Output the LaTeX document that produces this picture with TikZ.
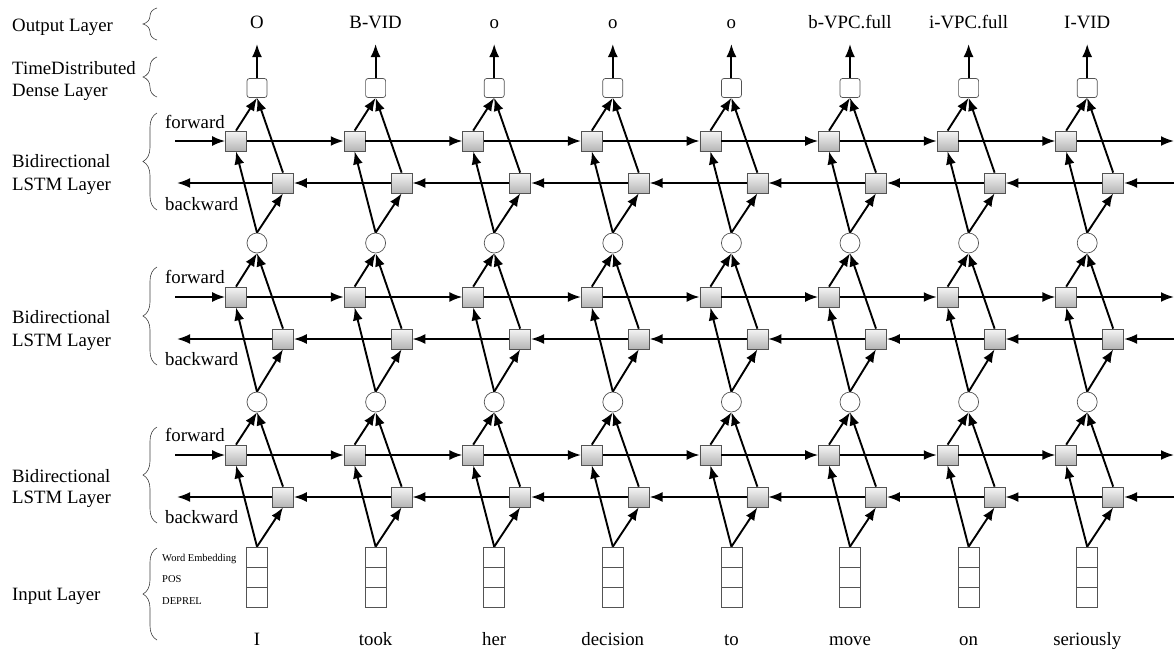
\documentclass[tikz,border=0pt]{standalone}
\usepackage{fontspec}
\setmainfont{Liberation Serif}
\usetikzlibrary{arrows.meta,decorations.pathreplacing}
\begin{document}
\begin{tikzpicture}[x=1pt,y=-1pt,
  lbl/.style={font=\fontsize{18.8}{21}\selectfont, inner sep=0pt, anchor=base},
  side/.style={lbl, anchor=base west},
  small/.style={font=\fontsize{10.5}{12}\selectfont, inner sep=0pt, anchor=base west},
  cell/.style={draw=gray!65!black, line width=0.7pt, top color=gray!8, bottom color=gray!58,
    minimum width=21pt, minimum height=20pt, inner sep=0pt},
  dense/.style={draw=gray!65!black, fill=white, rounded corners=2.5pt, minimum width=20pt,
    minimum height=19pt, inner sep=0pt, line width=0.7pt},
  merge/.style={circle, draw=gray!65!black, fill=white, minimum size=20pt, inner sep=0pt, line width=0.7pt},
  feat/.style={draw=gray!65!black, fill=white, minimum width=21pt, minimum height=20pt,
    inner sep=0pt, line width=0.7pt},
  link/.style={line width=1.9pt, -{Latex[length=13pt,width=10pt]}},
  layerbrace/.style={decorate, decoration={brace, amplitude=14pt}, draw=gray!50!black, line width=0.6pt}
]
\useasboundingbox (0,0) rectangle (1176,651);

% left-hand layer captions
\node[side] (capout) at (12,31) {Output Layer};
\node[side] (captd1) at (12,74) {TimeDistributed};
\node[side] (captd2) at (12,96) {Dense Layer};
\node[side] (capa1) at (12,167) {Bidirectional};
\node[side] (capa2) at (12,190) {LSTM Layer};
\node[side] (capb1) at (12,323) {Bidirectional};
\node[side] (capb2) at (12,346) {LSTM Layer};
\node[side] (capc1) at (12,482) {Bidirectional};
\node[side] (capc2) at (12,503) {LSTM Layer};
\node[side] (capin) at (12,600) {Input Layer};

% braces
\draw[layerbrace] (157,40) -- (157,8);
\draw[layerbrace] (157,97) -- (157,57);
\draw[layerbrace] (157,210) -- (157,113);
\draw[layerbrace] (157,365) -- (157,267);
\draw[layerbrace] (157,523) -- (157,427);
\draw[layerbrace] (157,640) -- (157,548);

% direction labels
\foreach \ly/\fb/\bb in {A/128/210, B/283/365, C/441/523}{
  \node[side] (fw\ly) at (165,\fb) {forward};
  \node[side] (bw\ly) at (165,\bb) {backward};
}

% feature names of the input vector
\node[small] (fwe) at (162,561) {Word Embedding};
\node[small] (fpos) at (162,582) {POS};
\node[small] (fdep) at (162,604) {DEPREL};

% columns: outputs, dense units, merge nodes, input vectors, words
\foreach \i/\tag/\word in {1/O/I, 2/B-VID/took, 3/o/her, 4/o/decision, 5/o/to,
    6/b-VPC.full/move, 7/i-VPC.full/on, 8/I-VID/seriously}{
  \pgfmathsetmacro\x{257+118.6*(\i-1)}
  \node[lbl] (o\i) at (\x,28) {\tag};
  \coordinate (t\i) at (\x,44);
  \node[dense] (d\i) at (\x,88) {};
  \node[merge] (m1\i) at (\x,243) {};
  \node[merge] (m2\i) at (\x,402) {};
  \node[feat] (e\i) at (\x,557) {};
  \node[feat] (p\i) at (\x,577) {};
  \node[feat] (r\i) at (\x,597) {};
  \node[lbl] (w\i) at (\x,645) {\word};
  \draw[link] (d\i.north) -- (t\i);
}

% three bidirectional LSTM layers
\foreach \ly/\fy/\by/\src/\dst in {A/141/183/m1/d, B/297/339/m2/m1, C/455/497/e/m2}{
  \foreach \i in {1,...,8}{
    \pgfmathsetmacro\x{257+118.6*(\i-1)}
    \node[cell] (f\ly\i) at (\x-21,\fy) {};
    \node[cell] (b\ly\i) at (\x+26,\by) {};
    \draw[link] (\src\i.north) -- (f\ly\i.south);
    \draw[link] (\src\i.north) -- (b\ly\i.south);
    \draw[link] (f\ly\i.north) -- (\dst\i.south);
    \draw[link] (b\ly\i.north) -- (\dst\i.south);
  }
  \foreach \i [evaluate=\i as \j using int(\i-1)] in {2,...,8}{
    \draw[link] (f\ly\j.east) -- (f\ly\i.west);
    \draw[link] (b\ly\i.west) -- (b\ly\j.east);
  }
  \coordinate (fin\ly) at (175,\fy);
  \coordinate (fout\ly) at (1174,\fy);
  \coordinate (bin\ly) at (1174,\by);
  \coordinate (bout\ly) at (177,\by);
  \draw[link] (fin\ly) -- (f\ly1.west);
  \draw[link] (f\ly8.east) -- (fout\ly);
  \draw[link] (bin\ly) -- (b\ly8.east);
  \draw[link] (b\ly1.west) -- (bout\ly);
}
\end{tikzpicture}
\end{document}
